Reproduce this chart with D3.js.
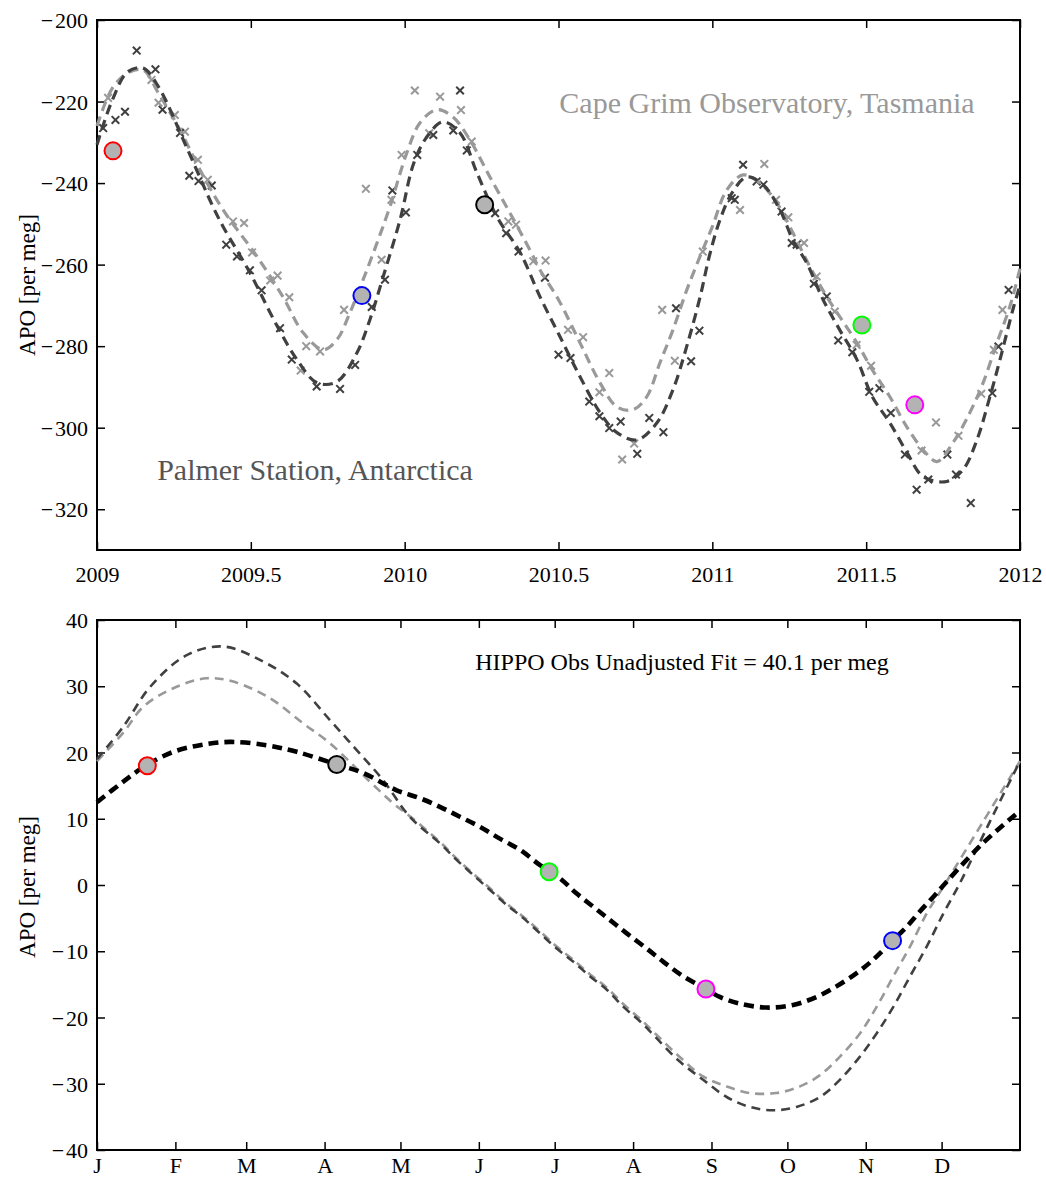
<!DOCTYPE html>
<html>
<head>
<meta charset="utf-8">
<script src="https://cdn.jsdelivr.net/npm/d3@7"></script>
<style>
  body { margin: 0; background: #fff; }
  text { font-family: "Liberation Serif", "Times New Roman", serif; }
</style>
</head>
<body>
<div id="chart"></div>
<script>
// ---- top panel: station records, [decimal year, APO per meg] ----
const palmerFit = [[2009.0,-230.6],[2009.05,-219.6],[2009.1,-212.7],[2009.15,-211.8],[2009.2,-216.4],[2009.29,-231],[2009.377,-245.8],[2009.41,-250.7],[2009.497,-262],[2009.585,-275],[2009.65,-283.3],[2009.715,-289],[2009.78,-288.7],[2009.845,-281.6],[2009.887,-273.5],[2009.93,-263],[2009.985,-249],[2010.03,-235],[2010.072,-228.7],[2010.124,-225],[2010.18,-227.7],[2010.235,-237.5],[2010.3,-248.3],[2010.375,-257],[2010.44,-267.9],[2010.505,-277.7],[2010.57,-287.5],[2010.635,-296.3],[2010.69,-301.2],[2010.755,-303],[2010.82,-298.8],[2010.872,-290.7],[2010.917,-280],[2010.96,-268],[2010.99,-258],[2011.025,-249],[2011.064,-242.4],[2011.112,-238.5],[2011.165,-240.4],[2011.22,-246.6],[2011.262,-254],[2011.307,-259.6],[2011.36,-268.6],[2011.414,-276],[2011.47,-283.3],[2011.52,-292.4],[2011.577,-298.8],[2011.632,-306],[2011.685,-312],[2011.762,-313.2],[2011.815,-310.3],[2011.86,-303],[2011.9,-293],[2011.935,-283.3],[2011.977,-271],[2012.0,-265]];

const capeFit = [[2009.0,-226],[2009.05,-216.7],[2009.1,-213],[2009.15,-212.3],[2009.2,-218],[2009.27,-227],[2009.335,-236.8],[2009.41,-246.6],[2009.52,-258],[2009.605,-268],[2009.67,-276.7],[2009.735,-280.9],[2009.78,-278.4],[2009.822,-271.8],[2009.865,-263.7],[2009.91,-254.7],[2009.952,-245.8],[2010.007,-232.6],[2010.05,-225.2],[2010.105,-222],[2010.157,-223.8],[2010.212,-229.4],[2010.277,-238.5],[2010.342,-247.3],[2010.407,-256.4],[2010.44,-261.3],[2010.5,-268.6],[2010.57,-279.2],[2010.635,-289],[2010.69,-294.9],[2010.742,-295.6],[2010.787,-292.4],[2010.83,-284],[2010.872,-276],[2010.917,-266.2],[2010.96,-258],[2011.0,-250.7],[2011.047,-241.7],[2011.1,-238],[2011.155,-240],[2011.21,-244.9],[2011.262,-252.2],[2011.317,-260.5],[2011.372,-267.9],[2011.47,-279.2],[2011.52,-285.8],[2011.577,-292.4],[2011.632,-299.8],[2011.685,-305.4],[2011.73,-308.3],[2011.782,-303.7],[2011.837,-296.3],[2011.88,-289],[2011.925,-279.2],[2011.967,-270.3],[2012.0,-261]];

const palmerObs = [[2009.02,-226.5],[2009.06,-224.5],[2009.091,-222.5],[2009.129,-207.5],[2009.19,-212.1],[2009.213,-222],[2009.27,-227.7],[2009.3,-238.2],[2009.33,-239.5],[2009.373,-240.6],[2009.42,-255.1],[2009.455,-258],[2009.497,-261.4],[2009.535,-266.3],[2009.595,-275.6],[2009.633,-283.3],[2009.714,-289.9],[2009.79,-290.5],[2009.839,-284.6],[2009.893,-270.4],[2009.936,-263.7],[2009.96,-241.8],[2010.004,-247.2],[2010.041,-233.1],[2010.093,-228.2],[2010.158,-227.1],[2010.18,-217.3],[2010.202,-232],[2010.294,-247.4],[2010.33,-252.3],[2010.37,-256.8],[2010.456,-263.2],[2010.5,-282.1],[2010.539,-282.9],[2010.6,-293.6],[2010.633,-297.2],[2010.665,-300.1],[2010.702,-298.5],[2010.756,-306.4],[2010.795,-297.6],[2010.841,-301.1],[2010.882,-270.7],[2010.931,-283.7],[2010.958,-276.2],[2011.063,-243.7],[2011.073,-244.1],[2011.1,-235.5],[2011.144,-239.6],[2011.166,-240.4],[2011.225,-247],[2011.258,-254.7],[2011.274,-255.1],[2011.33,-264.7],[2011.372,-267.8],[2011.409,-278.6],[2011.455,-281.5],[2011.51,-291.2],[2011.543,-290.3],[2011.58,-296.4],[2011.626,-306.6],[2011.664,-315.2],[2011.702,-312.7],[2011.764,-306.6],[2011.792,-311.5],[2011.84,-318.5],[2011.91,-291.5],[2011.93,-280.1],[2011.963,-266.2]];

const capeObs = [[2009.036,-219.1],[2009.177,-214.7],[2009.2,-220.3],[2009.253,-223.3],[2009.286,-227.4],[2009.328,-234.3],[2009.36,-239.2],[2009.442,-249.4],[2009.478,-249.8],[2009.504,-257],[2009.563,-263.9],[2009.587,-262.7],[2009.625,-268],[2009.662,-286],[2009.68,-280],[2009.725,-281.3],[2009.803,-271.1],[2009.874,-241.4],[2009.925,-258.8],[2009.957,-244.1],[2009.99,-233.1],[2010.033,-217.3],[2010.08,-227.8],[2010.115,-218.8],[2010.183,-222.1],[2010.218,-229.8],[2010.337,-249.4],[2010.362,-250.2],[2010.418,-259.2],[2010.458,-259],[2010.531,-276],[2010.58,-277.8],[2010.633,-291.3],[2010.665,-286.6],[2010.707,-307.8],[2010.746,-303.9],[2010.837,-271.1],[2010.878,-283.6],[2010.969,-256.8],[2011.09,-246.6],[2011.169,-235.3],[2011.207,-244.1],[2011.247,-248.4],[2011.298,-254.7],[2011.339,-262.9],[2011.398,-271.5],[2011.469,-279.7],[2011.516,-284.8],[2011.68,-305.6],[2011.727,-298.7],[2011.8,-302],[2011.874,-291.7],[2011.915,-280.9],[2011.943,-271.1]];

const hippoTimes = [2009.052, 2009.861, 2010.26, 2011.486, 2011.658];
const hippoStation = [-232.1, -267.6, -245.3, -274.8, -294.4];
const hippoColors = ["#ff0000", "#0000ff", "#000000", "#00ff00", "#ff00ff"];

const yearTicks = [2009, 2009.5, 2010, 2010.5, 2011, 2011.5, 2012];
const topYTicks = [-320, -300, -280, -260, -240, -220, -200];

// ---- bottom panel: seasonal cycles, [day of year, APO per meg] ----
const hippoFit = [[0,12.5],[10.4,15.6],[19.6,18.1],[30.2,20.1],[40.7,21.1],[52.6,21.6],[67.1,21.1],[79,20.1],[94.8,18.2],[105.3,16.9],[118.5,14.3],[127.7,13.1],[135.6,11.8],[143.5,10.3],[151.4,8.8],[159.3,7.0],[167.3,5.3],[175.2,3.0],[183.1,1.0],[189.7,-1.3],[196.3,-3.3],[202.9,-5.3],[209.5,-7.3],[217.4,-9.6],[224,-11.6],[231.9,-13.8],[240.8,-15.7],[246.3,-16.9],[254.2,-17.9],[264.8,-18.5],[275.3,-18.1],[284.5,-16.9],[292.4,-15.3],[300.4,-13.3],[306.9,-11.3],[314.6,-8.4],[320.2,-6.3],[325.4,-4.0],[330.7,-1.8],[336,0.5],[350,6.2],[365,11.2]];

const palmerCycle = [[0,19],[10.4,23.9],[21,29.9],[35.5,34.7],[49.9,36],[65.8,33.7],[79,30.4],[92.1,24.9],[102.6,20.4],[113.2,15.8],[123.7,10.3],[135.6,6.3],[142.2,3.8],[148.8,1.5],[155.4,-0.75],[162,-3.0],[168.6,-5.0],[175.2,-7.3],[181.8,-9.6],[188.4,-11.6],[195,-13.8],[201.6,-15.8],[208.2,-18.4],[214.8,-20.6],[220.7,-22.9],[230,-26.5],[239.7,-29.4],[249,-32],[258.2,-33.5],[267.4,-34],[276.6,-33.5],[285.9,-32],[293.8,-29.4],[301.7,-25.9],[308.3,-22.4],[314.9,-18.4],[321.5,-13.8],[328.1,-9.3],[334.7,-4.3],[341.2,0.25],[353,9.5],[365,18.7]];

const capeCycle = [[0,18.7],[10.4,23],[18.3,26.9],[30.2,29.7],[43.3,31.2],[53.9,30.7],[68.4,28.2],[81.5,24.4],[92.1,21.4],[107.9,15.6],[117.2,12.3],[124,10.3],[135.6,6.5],[142.2,4.0],[148.8,1.7],[155.4,-0.5],[162,-2.8],[168.6,-4.8],[175.2,-7.0],[181.8,-9.3],[188.4,-11.3],[195,-13.5],[201.6,-15.5],[208.2,-18.0],[214.8,-20.2],[220.7,-22.4],[230,-25.8],[239.7,-28.9],[249,-30.4],[258.2,-31.4],[268.7,-31.4],[278,-30.4],[285.9,-28.7],[293.8,-25.9],[301.7,-22.4],[308.3,-18.4],[314.9,-13.8],[321.5,-9.3],[328.1,-4.3],[334.7,-0.25],[350,9.3],[365,18.7]];

const hippoDays = [19.9, 94.8, 178.8, 240.8, 314.6];
const hippoSeasonal = [18.0, 18.2, 2.0, -15.7, -8.4];
const hippoDayColors = ["#ff0000", "#000000", "#00ff00", "#ff00ff", "#0000ff"];

const monthStarts = [0, 31, 59, 90, 120, 151, 181, 212, 243, 273, 304, 334];
const monthLabels = ["J", "F", "M", "A", "M", "J", "J", "A", "S", "O", "N", "D"];
const bottomYTicks = [-40, -30, -20, -10, 0, 10, 20, 30, 40];

const width = 1046, height = 1181;
const left = 97, right = 1020;

const svg = d3.select("#chart").append("svg")
    .attr("width", width)
    .attr("height", height);

// minus sign with a hair space, as MATLAB prints it
const fmt = d => (d < 0 ? "\u2212\u200A" + Math.abs(d) : String(d));

function frame(y0, y1, x, y, xTicks, xLabels, yTicks, labelGap) {
    const g = svg.append("g");
    // mirrored inward ticks, MATLAB style
    g.append("g").attr("transform", `translate(0,${y1})`)
        .call(d3.axisBottom(x).tickValues(xTicks).tickSize(-8).tickSizeOuter(0).tickFormat((d, i) => xLabels(d, i)))
        .call(a => a.selectAll("text").attr("y", labelGap).attr("dy", "0.8em"));
    g.append("g").attr("transform", `translate(0,${y0})`)
        .call(d3.axisTop(x).tickValues(xTicks).tickSize(-8).tickSizeOuter(0).tickFormat(""));
    g.append("g").attr("transform", `translate(${left},0)`)
        .call(d3.axisLeft(y).tickValues(yTicks).tickSize(-8).tickSizeOuter(0).tickFormat(fmt))
        .call(a => a.selectAll("text").attr("x", -9).attr("dy", "0.35em"));
    g.append("g").attr("transform", `translate(${right},0)`)
        .call(d3.axisRight(y).tickValues(yTicks).tickSize(-8).tickSizeOuter(0).tickFormat(""));
    g.selectAll(".domain").remove();
    g.selectAll(".tick line").attr("stroke", "#000").attr("stroke-width", 1.5);
    g.selectAll(".tick text").attr("font-size", 22).attr("font-family", "Liberation Serif").attr("fill", "#000");
    g.append("rect")
        .attr("x", left).attr("y", y0)
        .attr("width", right - left).attr("height", y1 - y0)
        .attr("fill", "none").attr("stroke", "#000").attr("stroke-width", 2);
    return g;
}

function crosses(g, data, x, y, color) {
    const s = 3.8;
    g.append("g").selectAll("path")
        .data(data)
        .enter().append("path")
        .attr("d", d => {
            const cx = x(d[0]), cy = y(d[1]);
            return `M${cx - s},${cy - s}L${cx + s},${cy + s}M${cx - s},${cy + s}L${cx + s},${cy - s}`;
        })
        .attr("stroke", color)
        .attr("stroke-width", 2);
}

function dashed(g, data, x, y, color, w, dash) {
    g.append("path")
        .datum(data)
        .attr("d", d3.line().x(d => x(d[0])).y(d => y(d[1])).curve(d3.curveCatmullRom))
        .attr("fill", "none")
        .attr("stroke", color)
        .attr("stroke-width", w)
        .attr("stroke-dasharray", dash);
}

function dots(g, xs, ys, colors, x, y) {
    g.append("g").selectAll("circle")
        .data(xs)
        .enter().append("circle")
        .attr("cx", d => x(d))
        .attr("cy", (d, i) => y(ys[i]))
        .attr("r", 8.5)
        .attr("fill", "#b3b3b3")
        .attr("stroke", (d, i) => colors[i])
        .attr("stroke-width", 2);
}

// ---------- top panel ----------
const xTop = d3.scaleLinear().domain([2009, 2012]).range([left, right]);
const yTop = d3.scaleLinear().domain([-330, -200]).range([550, 20]);

const topPanel = frame(20, 550, xTop, yTop, yearTicks, d => String(d), topYTicks, 14);
const topPlot = topPanel.append("g");
crosses(topPlot, capeObs, xTop, yTop, "#999999");
crosses(topPlot, palmerObs, xTop, yTop, "#404040");
dashed(topPlot, capeFit, xTop, yTop, "#999999", 3.2, "10,6");
dashed(topPlot, palmerFit, xTop, yTop, "#404040", 3.2, "10,6");
dots(topPlot, hippoTimes, hippoStation, hippoColors, xTop, yTop);

topPanel.append("text").attr("x", 767).attr("y", 113).attr("text-anchor", "middle")
    .attr("font-size", 30).attr("fill", "#999999").text("Cape Grim Observatory, Tasmania");
topPanel.append("text").attr("x", 315).attr("y", 480).attr("text-anchor", "middle")
    .attr("font-size", 30).attr("fill", "#555555").text("Palmer Station, Antarctica");
topPanel.append("text").attr("transform", "translate(35,285) rotate(-90)").attr("text-anchor", "middle")
    .attr("font-size", 23).text("APO [per meg]");

// ---------- bottom panel ----------
const xBot = d3.scaleLinear().domain([0, 365]).range([left, right]);
const yBot = d3.scaleLinear().domain([-40, 40]).range([1150, 620]);

const botPanel = frame(620, 1150, xBot, yBot, monthStarts, (d, i) => monthLabels[i], bottomYTicks, 5);
const botPlot = botPanel.append("g");
dashed(botPlot, capeCycle, xBot, yBot, "#999999", 2.6, "9,6");
dashed(botPlot, palmerCycle, xBot, yBot, "#404040", 2.6, "9,6");
dashed(botPlot, hippoFit, xBot, yBot, "#000000", 4.6, "10,6");
dots(botPlot, hippoDays, hippoSeasonal, hippoDayColors, xBot, yBot);

botPanel.append("text").attr("x", 682).attr("y", 670).attr("text-anchor", "middle")
    .attr("font-size", 24).text("HIPPO Obs Unadjusted Fit = 40.1 per meg");
botPanel.append("text").attr("transform", "translate(35,887) rotate(-90)").attr("text-anchor", "middle")
    .attr("font-size", 23).text("APO [per meg]");
</script>
</body>
</html>
